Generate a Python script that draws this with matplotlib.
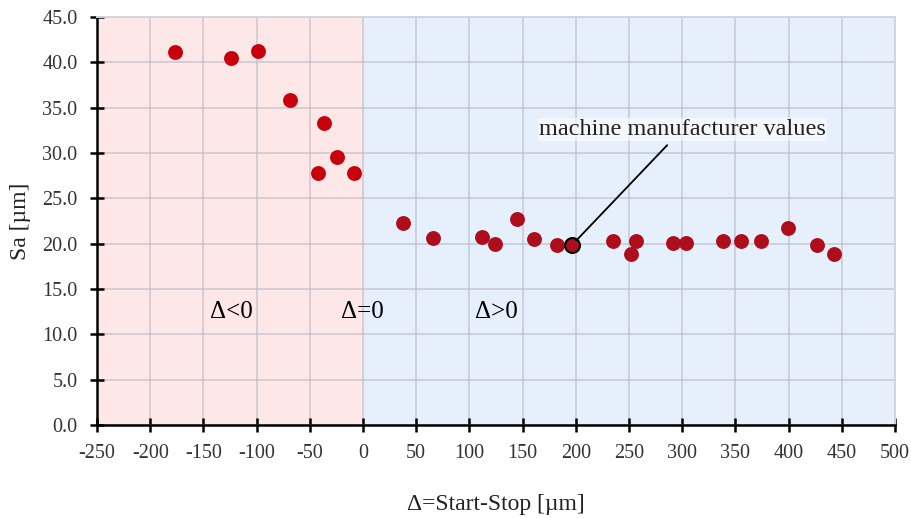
import matplotlib
matplotlib.use("Agg")
import matplotlib.pyplot as plt

plt.rcParams["font.family"] = ["Liberation Serif", "DejaVu Serif"]
plt.rcParams["axes.unicode_minus"] = False

# Sa ueber Delta = Start-Stop, getrennt nach Vorzeichen
delta_neg = [-177, -124, -99, -69, -37, -42, -24, -8]
sa_neg = [41.1, 40.5, 41.3, 35.8, 33.3, 27.8, 29.6, 27.8]

delta_pos = [38, 66, 112, 124, 145, 161, 182, 235, 252, 257, 291, 304,
             338, 355, 374, 399, 427, 443]
sa_pos = [22.3, 20.6, 20.7, 20.0, 22.7, 20.5, 19.8, 20.3, 18.9, 20.3, 20.1,
          20.1, 20.3, 20.3, 20.3, 21.7, 19.9, 18.9]

# Herstellerwert
delta_hst = 196
sa_hst = 19.8

fig = plt.figure(figsize=(9.12, 5.18), dpi=100)
ax = fig.add_axes([97 / 912, 1 - 425 / 518, 798 / 912, 408 / 518])

ax.axvspan(-250, 0, color="#fde7e7", zorder=0, lw=0)
ax.axvspan(0, 500, color="#e6f0fc", zorder=0, lw=0)

ax.set_xlim(-250, 500)
ax.set_ylim(0, 45)
ax.set_xticks(range(-250, 501, 50))
ax.set_yticks([i * 5 for i in range(10)])
ax.set_yticklabels([f"{i * 5:.1f}" for i in range(10)])
ax.grid(True, color="#b8b8c4", alpha=0.55, lw=1.4, zorder=1)
ax.set_axisbelow(True)

ax.scatter(delta_neg, sa_neg, s=115, color="#c8000c", zorder=3, lw=0)
ax.scatter(delta_pos, sa_pos, s=115, color="#ae0e1c", zorder=3, lw=0)
ax.scatter([delta_hst], [sa_hst], s=115, color="#ae0e1c",
           edgecolors="black", linewidths=1.5, zorder=4)

ax.annotate("machine manufacturer values", xy=(delta_hst, sa_hst),
            xytext=(300, 32.6), ha="center", va="center", fontsize=17.5,
            color="#222222",
            bbox=dict(boxstyle="square,pad=0.05", fc="white", ec="none",
                      alpha=0.6),
            arrowprops=dict(arrowstyle="-", color="black", lw=1.3,
                            shrinkA=4, shrinkB=5),
            zorder=5)

ax.text(-124, 12.5, "Δ<0", ha="center", va="center", fontsize=18)
ax.text(-1, 12.5, "Δ=0", ha="center", va="center", fontsize=18)
ax.text(125, 12.5, "Δ>0", ha="center", va="center", fontsize=18)

for s in ("top", "right"):
    ax.spines[s].set_color("#d4d4dc")
    ax.spines[s].set_linewidth(1.4)
for s in ("left", "bottom"):
    ax.spines[s].set_color("black")
    ax.spines[s].set_linewidth(1.8)

ax.tick_params(direction="inout", length=10, width=1.8, labelsize=14.5,
               colors="black", labelcolor="#333333")
ax.tick_params(axis="y", pad=9)
ax.tick_params(axis="x", pad=9)

ax.set_xlabel("Δ=Start-Stop [µm]", fontsize=17, labelpad=22,
              color="#222222")
ax.set_ylabel("Sa [µm]", fontsize=17, labelpad=8, color="#222222")

fig.savefig("out.png", dpi=100)
